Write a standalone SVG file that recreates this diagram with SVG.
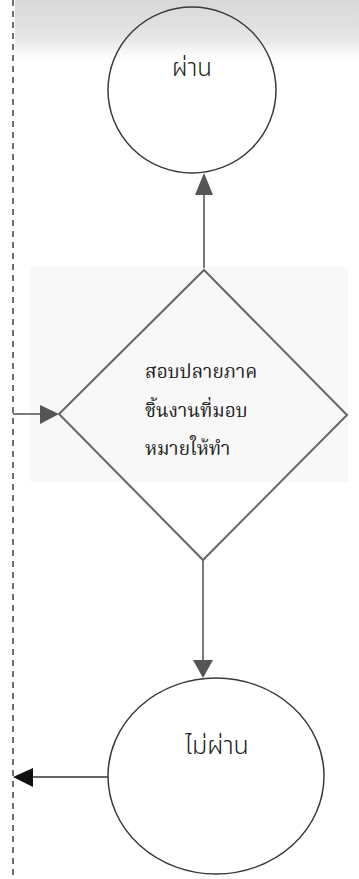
<svg xmlns="http://www.w3.org/2000/svg" width="359" height="879" viewBox="0 0 359 879">
<style>
.shape{fill:none;stroke:#3a3a3a;stroke-width:1.5}
.diamond{fill:none;stroke:#666;stroke-width:2}
.conn{fill:none;stroke:#333;stroke-width:1.3}
.lbl{font-family:'Noto Sans Thai','Noto Sans','DejaVu Sans',sans-serif;fill:#222;font-weight:300}
.dlbl{font-family:'Noto Serif Thai','Liberation Serif','DejaVu Serif',serif;fill:#222;font-size:19px}
</style>
<defs>
<linearGradient id="topg" x1="0" y1="0" x2="0" y2="1">
<stop offset="0" stop-color="#d8d8d8"/>
<stop offset="0.6" stop-color="#e4e4e4"/>
<stop offset="1" stop-color="#ffffff"/>
</linearGradient>
</defs>
<rect x="15" y="0" width="344" height="60" fill="url(#topg)"/>
<rect x="30" y="267" width="318" height="215" fill="#f8f8f8"/>
<line x1="13" y1="0" x2="13" y2="879" stroke="#222" stroke-width="1.3" stroke-dasharray="6,5"/>
<g id="connectors">
<line class="conn" x1="204" y1="268" x2="204" y2="193"/>
<path d="M195,195 L204,173 L213,195 z" fill="#555"/>
<line class="conn" x1="13" y1="414" x2="42" y2="414"/>
<path d="M40,405 L59,414 L40,424 z" fill="#555"/>
<line class="conn" x1="203" y1="560" x2="203" y2="662"/>
<path d="M193,660 L203,678 L213,660 z" fill="#555"/>
<line class="conn" x1="108" y1="777" x2="32" y2="777"/>
<path d="M33,768 L13,777 L33,787 z" fill="#111"/>
</g>
<g id="pass">
<ellipse class="shape" cx="192" cy="90" rx="84" ry="83"/>
<text class="lbl" x="192" y="76" font-size="24" text-anchor="middle">ผ่าน</text>
</g>
<g id="decision">
<polygon class="diamond" points="204,270 347,415 203,560 59,414"/>
<text class="dlbl" x="145" y="378">สอบปลายภาค</text>
<text class="dlbl" x="145" y="417">ชิ้นงานที่มอบ</text>
<text class="dlbl" x="145" y="455">หมายให้ทำ</text>
</g>
<g id="fail">
<ellipse class="shape" cx="216" cy="776" rx="108" ry="98"/>
<text class="lbl" x="217" y="754" font-size="25" text-anchor="middle">ไม่ผ่าน</text>
</g>
</svg>
